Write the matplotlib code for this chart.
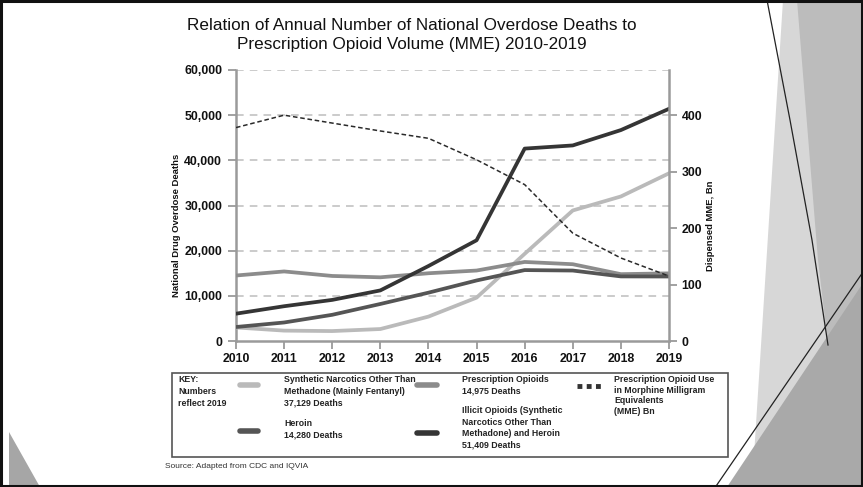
import matplotlib
matplotlib.use("Agg")
import matplotlib.pyplot as plt
from matplotlib.patches import Polygon, Rectangle
from matplotlib.lines import Line2D

# Annual values, 2010-2019
years = [2010, 2011, 2012, 2013, 2014, 2015, 2016, 2017, 2018, 2019]
synthetic = [3000, 2300, 2200, 2650, 5400, 9600, 19300, 28900, 32000, 37129]
prescription = [14500, 15400, 14400, 14100, 15000, 15600, 17500, 17000, 14800, 14975]
heroin = [3100, 4100, 5800, 8200, 10700, 13400, 15700, 15600, 14300, 14280]
illicit = [6050, 7700, 9100, 11200, 16600, 22300, 42600, 43300, 46700, 51409]
mme_bn = [378, 400, 386, 372, 359, 321, 277, 191, 147, 115]

death_ticks = [0, 10000, 20000, 30000, 40000, 50000, 60000]
mme_ticks = [0, 100, 200, 300, 400]

W, H = 863, 487
FONT = ["Liberation Sans", "DejaVu Sans"]

c_synth = "#bababa"
c_presc = "#8c8c8c"
c_heroin = "#555555"
c_illicit = "#353535"
c_axis = "#9a9a9a"
c_text = "#111111"


def fx(px):
    return px / W


def fy(py):
    return 1 - py / H


def fpts(pts):
    return [(fx(x), fy(y)) for x, y in pts]


fig = plt.figure(figsize=(W / 100, H / 100), dpi=100)
fig.patch.set_facecolor("white")

# slide decoration on the right and bottom-left corner
deco = [
    ([(783, 0), (863, 0), (863, 487), (752, 487)], "#d7d7d7"),
    ([(797, 0), (863, 0), (863, 487), (845, 487), (818, 260)], "#bcbcbc"),
    ([(727, 487), (863, 283), (863, 487)], "#a9a9a9"),
    ([(9, 432), (40, 487), (9, 487)], "#a6a6a6"),
]
for pts, col in deco:
    fig.add_artist(Polygon(fpts(pts), closed=True, transform=fig.transFigure,
                           fc=col, ec="none", zorder=0))
fig.add_artist(Line2D([fx(767), fx(790), fx(812), fx(828)],
                      [fy(0), fy(120), fy(240), fy(345)],
                      transform=fig.transFigure, color="#222222", lw=0.9, zorder=1))
fig.add_artist(Line2D([fx(712), fx(863)], [fy(492), fy(272)],
                      transform=fig.transFigure, color="#222222", lw=0.9, zorder=1))
fig.add_artist(Rectangle((fx(1), fy(486)), fx(861), fy(1) - fy(486), transform=fig.transFigure,
                         fill=False, ec="#111111", lw=2.2, zorder=5))

# main chart
ax = fig.add_axes([fx(236), fy(341), fx(669) - fx(236), fy(70) - fy(341)])
ax.set_facecolor("none")
ax.set_xlim(2010, 2019)
ax.set_ylim(0, 60000)

for v in death_ticks[1:]:
    ax.axhline(v, color="#bdbdbd", lw=1.1, ls=(0, (5, 4)), zorder=1)

ax.plot(years, synthetic, color=c_synth, lw=2.7, zorder=3)
ax.plot(years, prescription, color=c_presc, lw=2.7, zorder=3)
ax.plot(years, heroin, color=c_heroin, lw=2.7, zorder=3)
ax.plot(years, illicit, color=c_illicit, lw=2.7, zorder=4)

ax.set_xticks(years)
ax.set_yticks(death_ticks)
ax.set_yticklabels([f"{v:,}" for v in death_ticks])
for s in ["top", "right"]:
    ax.spines[s].set_visible(False)
for s in ["left", "bottom"]:
    ax.spines[s].set_color(c_axis)
    ax.spines[s].set_linewidth(1.8)
ax.tick_params(axis="both", colors=c_axis, width=1.3, length=6, labelcolor=c_text,
               labelsize=8.8)
ax.tick_params(axis="x", pad=3)
ax.tick_params(axis="y", pad=4)
for lab in ax.get_xticklabels() + ax.get_yticklabels():
    lab.set_family(FONT)
    lab.set_fontweight("bold")

ax2 = ax.twinx()
ax2.set_ylim(0, 480)
ax2.plot(years, mme_bn, color="#2a2a2a", lw=1.1, ls=(0, (3, 1.8)), zorder=5)
ax2.set_yticks(mme_ticks)
for s in ["top", "left", "bottom"]:
    ax2.spines[s].set_visible(False)
ax2.spines["right"].set_color(c_axis)
ax2.spines["right"].set_linewidth(1.8)
ax2.tick_params(axis="y", colors=c_axis, width=1.3, length=6, labelcolor=c_text, pad=3,
                labelsize=8.8)
for lab in ax2.get_yticklabels():
    lab.set_family(FONT)
    lab.set_fontweight("bold")

fig.text(fx(176), fy(225), "National Drug Overdose Deaths", rotation=90, ha="center", va="center",
         family=FONT, fontweight="bold", fontsize=6.8, color=c_text)
fig.text(fx(710), fy(226), "Dispensed MME, Bn", rotation=90, ha="center", va="center",
         family=FONT, fontweight="bold", fontsize=6.8, color=c_text)

fig.text(fx(412), fy(35), "Relation of Annual Number of National Overdose Deaths to\n"
         "Prescription Opioid Volume (MME) 2010-2019", ha="center", va="center",
         family=FONT, fontsize=12.3, linespacing=1.25, color=c_text)

# key box
fig.add_artist(Rectangle((fx(172), fy(457)), fx(728) - fx(172), fy(373) - fy(457),
                         transform=fig.transFigure, fill=False, ec="#555555", lw=1.2, zorder=6))

key_kw = dict(family=FONT, fontweight="bold", fontsize=6.3, color="#222222",
              ha="left", va="top", linespacing=1.38)
fig.text(fx(178), fy(375), "KEY:", **key_kw)
fig.text(fx(178), fy(387), "Numbers\nreflect 2019", **key_kw)

swatches = [
    (240, 258, 385, c_synth, "Synthetic Narcotics Other Than\nMethadone (Mainly Fentanyl)\n37,129 Deaths", 284, 375),
    (240, 258, 431, c_heroin, "Heroin\n14,280 Deaths", 284, 419),
    (417, 437, 385, c_presc, "Prescription Opioids\n14,975 Deaths", 462, 375),
    (417, 437, 433, c_illicit, "Illicit Opioids (Synthetic\nNarcotics Other Than\nMethadone) and Heroin\n51,409 Deaths", 462, 406),
]
for x0, x1, yy, col, txt, tx, ty in swatches:
    fig.add_artist(Line2D([fx(x0), fx(x1)], [fy(yy), fy(yy)], transform=fig.transFigure,
                          color=col, lw=4, solid_capstyle="round", zorder=6))
    fig.text(fx(tx), fy(ty), txt, **key_kw)

fig.add_artist(Line2D([fx(577), fx(601)], [fy(386), fy(386)], transform=fig.transFigure,
                      color="#333333", lw=3.5, ls=(0, (1, 0.9)), zorder=6))
fig.text(fx(614), fy(375), "Prescription Opioid Use\nin Morphine Milligram\nEquivalents\n(MME) Bn",
         **dict(key_kw, linespacing=1.22))

fig.text(fx(165), fy(466), "Source: Adapted from CDC and IQVIA", ha="left", va="center",
         family=FONT, fontsize=6, color="#333333")

fig.savefig("out.png", dpi=100)
